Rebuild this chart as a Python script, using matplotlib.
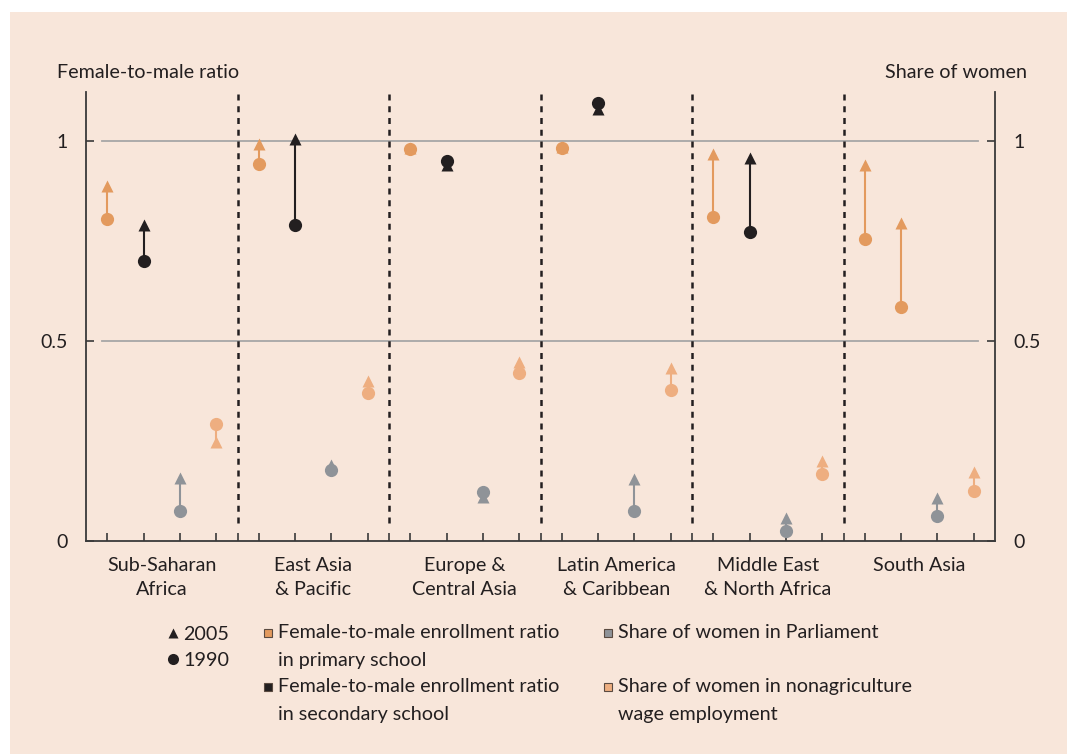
#!/usr/bin/env python3
"""Gender gaps by region, 1990 vs 2005: dumbbell-arrow chart."""

import matplotlib
matplotlib.use('Agg')
import matplotlib.pyplot as plt
from matplotlib.lines import Line2D
from matplotlib.patches import Rectangle

# DATA
regions = ['Sub-Saharan\nAfrica', 'East Asia\n& Pacific', 'Europe &\nCentral Asia',
           'Latin America\n& Caribbean', 'Middle East\n& North Africa', 'South Asia']

primary_1990 = [0.805, 0.943, 0.980, 0.983, 0.810, 0.755]
primary_2005 = [0.888, 0.992, 0.982, 0.985, 0.967, 0.940]
secondary_1990 = [0.700, 0.790, 0.950, 1.095, 0.773, 0.585]
secondary_2005 = [0.790, 1.004, 0.940, 1.080, 0.957, 0.795]
parliament_1990 = [0.076, 0.178, 0.122, 0.076, 0.025, 0.063]
parliament_2005 = [0.157, 0.190, 0.110, 0.155, 0.057, 0.107]
wage_1990 = [0.292, 0.370, 0.420, 0.378, 0.167, 0.125]
wage_2005 = [0.247, 0.400, 0.447, 0.432, 0.200, 0.172]

year_labels = ['2005', '1990']
series_labels = ['Female-to-male enrollment ratio\nin primary school',
                 'Female-to-male enrollment ratio\nin secondary school',
                 'Share of women in Parliament',
                 'Share of women in nonagriculture\nwage employment']

# STYLE
BG = '#f8e6da'
ORANGE = '#e39a5e'
LIGHT = '#eeae80'
GREY = '#8f9398'
BLACK = '#231f20'
TEXT = '#231f20'
MAIN_FONT = ['Lato', 'DejaVu Sans']
NARROW_FONT = ['Liberation Sans Narrow', 'Lato', 'DejaVu Sans']

plt.rcParams['font.family'] = MAIN_FONT

fig = plt.figure(figsize=(10.67, 7.54), dpi=100)
fig.patch.set_facecolor('white')
fig.add_artist(Rectangle((10 / 1067, 0), 1, 1 - 12 / 754, transform=fig.transFigure,
                         facecolor=BG, edgecolor='none', zorder=-10))

ax = fig.add_axes([86 / 1067, 1 - 541 / 754, 909 / 1067, 449 / 754])
ax.set_facecolor('none')
ax.set_xlim(0, 6)
ax.set_ylim(0, 1.1225)

offsets = [0.139, 0.380, 0.620, 0.861]
series = [(primary_1990, primary_2005, ORANGE),
          (secondary_1990, secondary_2005, BLACK),
          (parliament_1990, parliament_2005, GREY),
          (wage_1990, wage_2005, LIGHT)]

# grid lines (stop short of the spines)
for yv in (0.5, 1.0):
    ax.plot([0.106, 5.89], [yv, yv], color='#a7a6a6', lw=1.3, zorder=1)

# group separators
for b in range(1, 6):
    ax.plot([b, b], [0.045, 1.1225], color=BLACK, lw=1.8,
            linestyle=(0, (2.4, 2.3)), zorder=2, clip_on=False)

for j, (v90, v05, col) in enumerate(series):
    for i in range(len(regions)):
        c = col
        # in the source chart South Asia's secondary-school pair is drawn in orange
        if j == 1 and i == 5:
            c = ORANGE
        x = i + offsets[j]
        ax.plot([x, x], [v90[i], v05[i]], color=c, lw=1.5, zorder=3)
        ax.plot(x, v05[i], marker='^', ms=9, color=c, mec='none', zorder=4)
        ax.plot(x, v90[i], marker='o', ms=9.5, color=c, mec='none', zorder=5)

# axes / spines
ax.spines['top'].set_visible(False)
for s in ('left', 'right', 'bottom'):
    ax.spines[s].set_color('#3a3a3a')
    ax.spines[s].set_linewidth(1.3)

ax.set_yticks([0, 0.5, 1])
ax.set_yticklabels(['0', '0.5', '1'])
ax.tick_params(axis='y', direction='in', length=6, width=1.2, color='#3a3a3a',
               labelsize=14, labelcolor=TEXT, pad=13, left=True, right=True,
               labelleft=True, labelright=True)

xt = [i + o for i in range(6) for o in offsets] + list(range(1, 6))
ax.set_xticks(xt)
ax.set_xticklabels([])
ax.tick_params(axis='x', direction='in', length=6, width=1.2, color='#3a3a3a')

for i, lab in enumerate(regions):
    ax.text(i + 0.5, -0.04, lab, ha='center', va='top', fontsize=14.2,
            color=TEXT, linespacing=1.5, transform=ax.transData)

fig.text(57 / 1067, 1 - 72 / 754, 'Female-to-male ratio', ha='left', va='center',
         fontsize=14.2, color=TEXT)
fig.text(1027 / 1067, 1 - 72 / 754, 'Share of women', ha='right', va='center',
         fontsize=14.2, color=TEXT)

# LEGEND (hand-built)
def fy(py):
    return 1 - py / 754

def fx(px):
    return px / 1067

fig.add_artist(Line2D([fx(173)], [fy(633)], marker='^', ms=7, color=BLACK,
                      mec='none', transform=fig.transFigure))
fig.add_artist(Line2D([fx(173)], [fy(659)], marker='o', ms=8, color=BLACK,
                      mec='none', transform=fig.transFigure))
fig.text(fx(183), fy(634), year_labels[0], ha='left', va='center', fontsize=14.2,
         color=TEXT, family=NARROW_FONT)
fig.text(fx(183), fy(660), year_labels[1], ha='left', va='center', fontsize=14.2,
         color=TEXT, family=NARROW_FONT)

leg_pos = [(268, 633), (268, 687), (608, 633), (608, 687)]
leg_cols = [ORANGE, BLACK, GREY, LIGHT]
for (px, py), col, lab in zip(leg_pos, leg_cols, series_labels):
    fig.add_artist(Line2D([fx(px)], [fy(py)], marker='s', ms=6, color=col,
                          mec='#5a4a40', mew=0.8, transform=fig.transFigure))
    fig.text(fx(px + 10), fy(py - 9), lab, ha='left', va='top', fontsize=14.2,
             color=TEXT, family=NARROW_FONT, linespacing=1.8)

fig.savefig('out.png', dpi=100, facecolor=fig.get_facecolor())
